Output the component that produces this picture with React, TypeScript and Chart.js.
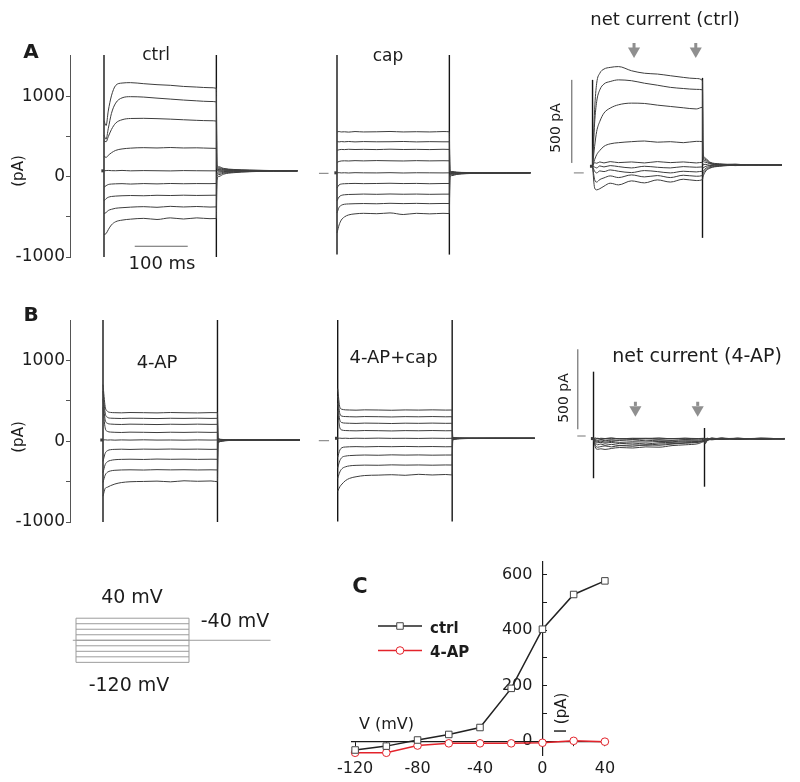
import React, { useEffect, useRef } from "react";
import { Chart, registerables } from "chart.js";

Chart.register(...registerables);

// ---------------- data ----------------
const STEP_MV = [40, 20, 0, -20, -40, -60, -80, -100, -120];
const HOLD_MV = -40;
const T_PULSE = [0, 4, 8, 14, 22, 34, 50, 75, 100, 125, 150, 175, 200, 212];
const T_TAIL = [213, 217, 226, 245, 275, 320, 365];
const T_PRE = [-5, 0];
const ARROW_T = [80, 199];
const SCALE_MS = 100;
const SCALE_PA = 500;

const CTRL_PULSE = [
  [700, 640, 820, 1010, 1140, 1170, 1175, 1162, 1150, 1142, 1128, 1120, 1112, 1105],
  [520, 470, 600, 790, 920, 985, 1000, 995, 982, 970, 958, 948, 940, 935],
  [450, 437, 500, 590, 670, 712, 728, 730, 726, 720, 712, 705, 700, 696],
  [260, 242, 268, 300, 330, 348, 358, 364, 360, 366, 360, 362, 357, 355],
  [75, 78, 80, 77, 76, 80, 75, 78, 76, 74, 78, 76, 75, 75],
  [-130, -110, -96, -90, -87, -85, -90, -84, -88, -83, -86, -84, -85, -83],
  [-300, -272, -255, -245, -240, -236, -233, -236, -230, -233, -229, -232, -230, -229],
  [-460, -445, -420, -405, -392, -385, -378, -372, -380, -368, -376, -370, -377, -375],
  [-720, -708, -660, -600, -560, -540, -528, -518, -532, -512, -526, -512, -522, -520],
];
const CTRL_TAIL = [
  [146, 125, 105, 92, 84, 78, 76],
  [128, 112, 98, 88, 82, 77, 75],
  [112, 100, 90, 84, 80, 77, 75],
  [96, 90, 84, 80, 78, 76, 75],
  [78, 76, 76, 75, 76, 75, 75],
  [58, 62, 66, 70, 72, 74, 75],
  [36, 46, 56, 64, 70, 73, 75],
  [10, 28, 46, 58, 66, 72, 74],
  [-41, 5, 34, 52, 64, 71, 74],
];
const CTRL_HOLD = 75;
const CTRL_SPIKE = [-1010, 1520];

const CAP_PULSE = [
  [560, 565, 560, 562, 558, 565, 560, 562, 566, 560, 563, 560, 565, 562],
  [440, 436, 440, 437, 441, 436, 440, 437, 438, 441, 436, 439, 437, 437],
  [330, 338, 342, 340, 344, 341, 343, 340, 345, 341, 343, 340, 344, 342],
  [180, 192, 198, 200, 198, 202, 199, 203, 200, 198, 202, 199, 201, 200],
  [50, 52, 49, 51, 48, 52, 50, 49, 52, 48, 51, 50, 49, 50],
  [-140, -100, -90, -86, -84, -82, -85, -83, -80, -84, -82, -86, -83, -83],
  [-300, -250, -232, -224, -220, -218, -215, -218, -214, -217, -215, -218, -216, -216],
  [-450, -380, -355, -342, -338, -335, -333, -336, -330, -334, -331, -335, -332, -333],
  [-700, -600, -540, -500, -475, -462, -455, -460, -450, -470, -455, -462, -455, -458],
];
const CAP_TAIL = [
  [80, 66, 58, 54, 52, 50, 50],
  [72, 62, 56, 53, 51, 50, 50],
  [64, 58, 54, 52, 51, 50, 50],
  [58, 55, 53, 51, 50, 50, 50],
  [50, 50, 50, 50, 50, 50, 50],
  [40, 42, 45, 47, 49, 50, 50],
  [28, 34, 40, 45, 48, 49, 50],
  [15, 25, 35, 42, 46, 49, 50],
  [0, 15, 30, 40, 46, 48, 50],
];
const CAP_HOLD = 50;
const CAP_ZERO = 44;
const CAP_SPIKE = [-970, 1530];

const NETC_PULSE = [
  [40, 380, 540, 600, 625, 635, 640, 615, 600, 595, 585, 575, 568, 556],
  [40, 300, 430, 500, 535, 550, 560, 555, 540, 528, 515, 508, 503, 500],
  [40, 160, 250, 310, 360, 390, 410, 420, 418, 408, 400, 392, 385, 395],
  [40, 80, 110, 135, 160, 175, 182, 188, 192, 185, 188, 182, 190, 188],
  [40, 62, 58, 66, 60, 68, 62, 66, 60, 68, 62, 66, 60, 64],
  [40, 35, 30, 42, 36, 44, 38, 30, 40, 34, 30, 38, 34, 36],
  [40, 10, 0, 12, 8, 18, 10, 2, 14, 8, 0, 10, 6, 10],
  [40, -40, -55, -40, -30, -18, -28, -12, -24, -16, -28, -14, -20, -16],
  [40, -90, -102, -95, -80, -62, -72, -48, -60, -42, -55, -38, -46, -40],
];
const NETC_TAIL = [
  [120, 90, 65, 55, 50, 48, 46],
  [105, 82, 62, 52, 46, 50, 48],
  [90, 74, 58, 50, 52, 46, 48],
  [75, 65, 55, 48, 46, 50, 47],
  [48, 52, 46, 50, 44, 50, 48],
  [30, 38, 44, 48, 52, 46, 48],
  [10, 25, 38, 44, 48, 50, 47],
  [-5, 15, 32, 42, 50, 46, 48],
  [-24, 5, 28, 40, 46, 50, 48],
];
const NETC_HOLD = 40;
const NETC_SPIKE_ON = [36, 560];
const NETC_SPIKE_OFF = [-391, 572];

const FAP_PULSE = [
  [700, 430, 372, 356, 353, 351, 355, 353, 350, 355, 352, 350, 354, 353],
  [620, 350, 297, 285, 283, 281, 285, 283, 280, 284, 282, 285, 282, 283],
  [520, 265, 222, 212, 209, 207, 211, 209, 206, 210, 208, 211, 208, 209],
  [420, 165, 122, 113, 110, 108, 112, 110, 107, 111, 109, 112, 109, 110],
  [15, 17, 14, 16, 13, 16, 14, 17, 14, 15, 13, 16, 14, 15],
  [-250, -150, -118, -105, -101, -99, -102, -98, -100, -97, -100, -98, -101, -100],
  [-390, -290, -255, -238, -229, -225, -223, -226, -221, -224, -222, -225, -223, -224],
  [-510, -420, -385, -368, -360, -356, -354, -357, -352, -355, -353, -356, -354, -356],
  [-680, -585, -570, -550, -530, -512, -502, -498, -494, -503, -490, -496, -492, -501],
];
const FAP_TAIL = [
  [-15, -5, 5, 12, 14, 15, 15],
  [-10, -2, 7, 12, 14, 15, 15],
  [-5, 2, 9, 13, 14, 15, 15],
  [0, 6, 11, 14, 15, 15, 15],
  [15, 14, 16, 14, 15, 16, 15],
  [20, 18, 16, 15, 15, 15, 15],
  [25, 20, 17, 16, 15, 15, 15],
  [28, 22, 18, 16, 15, 15, 15],
  [30, 24, 19, 16, 15, 15, 15],
];
const FAP_HOLD = 15;
const FAP_SPIKE = [-1005, 1500];

const FAPCAP_PULSE = [
  [650, 420, 395, 388, 386, 384, 388, 386, 383, 387, 385, 388, 385, 386],
  [560, 340, 310, 305, 303, 301, 305, 303, 300, 304, 302, 305, 302, 303],
  [470, 260, 230, 224, 222, 220, 224, 222, 219, 223, 221, 224, 221, 222],
  [380, 165, 138, 132, 130, 128, 132, 130, 127, 131, 129, 132, 129, 130],
  [36, 38, 35, 37, 34, 37, 35, 38, 35, 36, 34, 37, 35, 36],
  [-200, -110, -80, -72, -69, -67, -70, -66, -68, -65, -68, -66, -69, -68],
  [-330, -240, -200, -185, -178, -174, -171, -174, -169, -172, -170, -173, -171, -171],
  [-460, -380, -340, -318, -305, -299, -296, -298, -293, -296, -294, -297, -294, -295],
  [-620, -563, -530, -490, -460, -440, -425, -420, -415, -422, -410, -418, -412, -418],
];
const FAPCAP_TAIL = [
  [15, 24, 30, 34, 35, 36, 36],
  [20, 27, 32, 35, 36, 36, 36],
  [24, 29, 33, 35, 36, 36, 36],
  [28, 31, 34, 35, 36, 36, 36],
  [36, 35, 37, 35, 36, 37, 36],
  [40, 38, 37, 36, 36, 36, 36],
  [44, 40, 38, 37, 36, 36, 36],
  [46, 41, 38, 37, 36, 36, 36],
  [48, 42, 39, 37, 36, 36, 36],
];
const FAPCAP_HOLD = 36;
const FAPCAP_ZERO = 6;
const FAPCAP_SPIKE = [-995, 1500];

const NET4_PULSE = [
  [-15, -12, -18, -14, -16, -12, -18, -14, -16, -12, -18, -14, -16, -14],
  [-15, -20, -16, -22, -18, -20, -16, -22, -18, -20, -16, -22, -18, -16],
  [-15, -25, -28, -24, -30, -26, -28, -24, -30, -26, -28, -24, -26, -20],
  [-15, -30, -35, -32, -38, -34, -40, -36, -38, -34, -36, -30, -32, -25],
  [-15, -18, -14, -18, -16, -14, -18, -16, -14, -18, -16, -14, -18, -16],
  [-15, -35, -42, -40, -45, -40, -48, -44, -50, -42, -40, -36, -34, -28],
  [-15, -45, -55, -50, -58, -52, -60, -55, -58, -50, -48, -42, -38, -30],
  [-15, -60, -70, -66, -62, -68, -60, -64, -55, -58, -50, -45, -40, -32],
  [-15, -75, -83, -80, -84, -78, -72, -75, -68, -70, -60, -55, -48, -35],
];
const NET4_TAIL = [
  [-25, -14, -22, -12, -20, -14, -18],
  [-20, -26, -14, -22, -16, -20, -15],
  [-30, -18, -24, -14, -22, -16, -20],
  [-15, -22, -12, -20, -14, -22, -16],
  [-18, -14, -20, -16, -18, -14, -18],
  [-35, -20, -16, -22, -14, -20, -16],
  [-40, -24, -18, -14, -22, -16, -20],
  [-45, -28, -20, -16, -20, -14, -18],
  [-50, -30, -22, -18, -14, -20, -16],
];
const NET4_HOLD = -16;
const NET4_SPIKE_ON = [-264, 402];
const NET4_SPIKE_OFF = [-317, 50];

const TRACE_Y_TICKS = [-1000, -500, 0, 500, 1000];
const TRACE_Y_LABELS = [-1000, 0, 1000];

const IV_V = [-120, -100, -80, -60, -40, -20, 0, 20, 40];
const IV_CTRL = [-32, -18, 4, 24, 49, 190, 403, 528, 577];
const IV_4AP = [-42, -42, -16, -8, -8, -8, -6, 1, -2];
const IV_X_MINOR = [-120, -100, -80, -60, -40, -20, 0, 20, 40];
const IV_X_LABELS = [-120, -80, -40, 0, 40];
const IV_Y_MINOR = [0, 100, 200, 300, 400, 500, 600];
const IV_Y_LABELS = [0, 200, 400, 600];

// ---------------- style / layout ----------------
const W = 800;
const H = 782;
const FONT = "'DejaVu Sans', 'Liberation Sans', sans-serif";
const INK = "#1c1c1c";
const TRACE = "#3d3d3d";
const SPIKE = "#151515";
const GRAY = "#8f8f8f";
const LIGHT = "#9c9c9c";
const RED = "#e3232b";
const T_END = T_PULSE[T_PULSE.length - 1];
const IV_LABEL_GAP_MV = -6.4; // where the y tick labels of panel C sit (about 10px left of the axis)

type TextItem = {
  t: string; x: number; y: number; size: number; bold?: boolean;
  align?: CanvasTextAlign; base?: CanvasTextBaseline; rot?: boolean;
};

const freeText = {
  id: "freeText",
  afterDraw(chart: any, _a: any, opts: any) {
    const ctx = chart.ctx;
    (opts.items || []).forEach((it: TextItem) => {
      ctx.save();
      ctx.font = `${it.bold ? "bold " : ""}${it.size}px ${FONT}`;
      ctx.fillStyle = INK;
      ctx.textAlign = it.align || "center";
      ctx.textBaseline = it.base || "alphabetic";
      ctx.translate(it.x, it.y);
      if (it.rot) ctx.rotate(-Math.PI / 2);
      ctx.fillText(it.t, 0, 0);
      ctx.restore();
    });
  },
};

const ivLegend = {
  id: "ivLegend",
  afterDraw(chart: any, _a: any, o: any) {
    if (!o || !o.ys) return;
    const ctx = chart.ctx;
    chart.data.datasets.forEach((ds: any, i: number) => {
      const y = o.ys[i];
      ctx.save();
      ctx.strokeStyle = ds.borderColor;
      ctx.lineWidth = ds.borderWidth;
      ctx.beginPath();
      ctx.moveTo(o.x1, y);
      ctx.lineTo(o.x2, y);
      ctx.stroke();
      const mx = (o.x1 + o.x2) / 2;
      ctx.fillStyle = "#fff";
      ctx.strokeStyle = ds.pointBorderColor;
      ctx.lineWidth = 1;
      ctx.beginPath();
      if (ds.pointStyle === "rect") {
        const s = ds.pointRadius * Math.SQRT1_2;
        ctx.rect(mx - s, y - s, 2 * s, 2 * s);
      } else {
        ctx.arc(mx, y, ds.pointRadius, 0, Math.PI * 2);
      }
      ctx.fill();
      ctx.stroke();
      ctx.font = `bold 15px ${FONT}`;
      ctx.fillStyle = INK;
      ctx.textAlign = "left";
      ctx.textBaseline = "alphabetic";
      ctx.fillText(ds.label, o.tx, o.tb[i]);
      ctx.restore();
    });
  },
};

function pad(l: number, t: number, r: number, b: number, axisW = 0, axisH = 0) {
  return { left: l - axisW, top: t, right: W - r, bottom: H - b - axisH };
}

function seg(pts: number[][], color: string, width: number) {
  return {
    data: pts.map(([x, y]) => ({ x, y })),
    borderColor: color,
    borderWidth: width,
    pointRadius: 0,
    tension: 0,
    fill: false,
  };
}

function trace(pulse: number[], tail: number[], color = TRACE) {
  const data = T_PULSE.map((t, i) => ({ x: t, y: pulse[i] })).concat(
    T_TAIL.map((t, i) => ({ x: t, y: tail[i] }))
  );
  return {
    data,
    borderColor: color,
    borderWidth: 1,
    pointRadius: 0,
    cubicInterpolationMode: "monotone",
    fill: false,
  };
}

function baseOptions(padding: any, scales: any, plugins: any) {
  return {
    responsive: false,
    animation: false,
    events: [],
    layout: { padding },
    plugins: { legend: { display: false }, tooltip: { enabled: false }, ...plugins },
    scales,
  };
}

function yAxisVisible(min: number, max: number) {
  return {
    type: "linear",
    position: "left",
    min,
    max,
    afterFit: (s: any) => {
      s.width = 60;
    },
    afterBuildTicks: (s: any) => {
      s.ticks = TRACE_Y_TICKS.map((v) => ({ value: v }));
    },
    ticks: {
      autoSkip: false,
      padding: 1,
      color: INK,
      font: { family: FONT, size: 17 },
      callback: (v: number) => (TRACE_Y_LABELS.includes(v) ? String(v) : ""),
    },
    grid: { drawOnChartArea: false, tickLength: 4, color: "#555" },
    border: { color: "#555", width: 1 },
  };
}

type PanelSpec = {
  area: number[]; x0: number; ppm: number; yMin: number; yMax: number; yAxis?: boolean;
  pulse: number[][]; tail: number[][]; hold: number; spikeOn: number[]; spikeOff: number[];
  extras: any[]; texts: TextItem[];
};

function tracePanel(p: PanelSpec) {
  const [l, t, r, b] = p.area;
  const axisW = p.yAxis ? 60 : 0;
  const datasets: any[] = [];
  p.pulse.forEach((row, i) => datasets.push(trace(row, p.tail[i])));
  datasets.push(seg(T_PRE.map((tt) => [tt, p.hold]), TRACE, 3));
  datasets.push(seg([[0, p.spikeOn[0]], [0, p.spikeOn[1]]], SPIKE, 1.4));
  datasets.push(seg([[T_END, p.spikeOff[0]], [T_END, p.spikeOff[1]]], SPIKE, 1.4));
  p.extras.forEach((d) => datasets.push(d));
  const scales = {
    x: { type: "linear", display: false, min: (l - p.x0) / p.ppm, max: (r - p.x0) / p.ppm },
    y: p.yAxis ? yAxisVisible(p.yMin, p.yMax) : { type: "linear", display: false, min: p.yMin, max: p.yMax },
  };
  return {
    type: "line",
    data: { datasets },
    options: baseOptions(pad(l, t, r, b, axisW), scales, { freeText: { items: p.texts } }),
    plugins: [freeText],
  };
}

function arrows(stemLo: number, stemHi: number, head: number) {
  const out: any[] = ARROW_T.map((tt) => seg([[tt, stemLo], [tt, stemHi]], GRAY, 3));
  out.push({
    data: ARROW_T.map((tt) => ({ x: tt, y: head })),
    showLine: false,
    pointStyle: "triangle",
    pointRotation: 180,
    pointRadius: 7,
    pointBackgroundColor: GRAY,
    pointBorderColor: GRAY,
    pointBorderWidth: 0,
  });
  return out;
}

// ---------------- panels ----------------
const buildCtrl = () =>
  tracePanel({
    area: [70, 55, 300, 257], x0: 104, ppm: 0.53, yMin: -1000, yMax: 1520, yAxis: true,
    pulse: CTRL_PULSE, tail: CTRL_TAIL, hold: CTRL_HOLD, spikeOn: CTRL_SPIKE, spikeOff: CTRL_SPIKE,
    extras: [seg([[58, -866], [58 + SCALE_MS, -866]], "#666", 1)],
    texts: [
      { t: "A", x: 31, y: 58, size: 20, bold: true },
      { t: "ctrl", x: 156, y: 60, size: 17 },
      { t: "(pA)", x: 19, y: 171, size: 15, rot: true, base: "middle" },
      { t: "100 ms", x: 162, y: 269, size: 18 },
    ],
  });

const buildCap = () =>
  tracePanel({
    area: [300, 55, 540, 257], x0: 337, ppm: 0.53, yMin: -1000, yMax: 1520,
    pulse: CAP_PULSE, tail: CAP_TAIL, hold: CAP_HOLD, spikeOn: CAP_SPIKE, spikeOff: CAP_SPIKE,
    extras: [seg([[-34, CAP_ZERO], [-16, CAP_ZERO]], "#777", 1)],
    texts: [{ t: "cap", x: 388, y: 60.5, size: 17 }],
  });

const buildNetCtrl = () =>
  tracePanel({
    area: [540, 40, 800, 251], x0: 594, ppm: 0.533, yMin: -470, yMax: 800,
    pulse: NETC_PULSE, tail: NETC_TAIL, hold: NETC_HOLD, spikeOn: NETC_SPIKE_ON, spikeOff: NETC_SPIKE_OFF,
    extras: [
      seg([[-40, 60], [-40, 60 + SCALE_PA]], "#555", 1),
      seg([[-36, 0], [-17, 0]], "#777", 1),
      ...arrows(752, 782, 734),
    ],
    texts: [
      { t: "net current (ctrl)", x: 665, y: 25, size: 18 },
      { t: "500 pA", x: 556, y: 128, size: 14, rot: true, base: "middle" },
    ],
  });

const buildFap = () =>
  tracePanel({
    area: [70, 320, 300, 522], x0: 103, ppm: 0.54, yMin: -1000, yMax: 1500, yAxis: true,
    pulse: FAP_PULSE, tail: FAP_TAIL, hold: FAP_HOLD, spikeOn: FAP_SPIKE, spikeOff: FAP_SPIKE,
    extras: [],
    texts: [
      { t: "B", x: 31, y: 320.5, size: 20, bold: true },
      { t: "4-AP", x: 157, y: 368, size: 18 },
      { t: "(pA)", x: 19, y: 437, size: 15, rot: true, base: "middle" },
    ],
  });

const buildFapCap = () =>
  tracePanel({
    area: [300, 320, 540, 522], x0: 337.7, ppm: 0.54, yMin: -1000, yMax: 1500,
    pulse: FAPCAP_PULSE, tail: FAPCAP_TAIL, hold: FAPCAP_HOLD, spikeOn: FAPCAP_SPIKE, spikeOff: FAPCAP_SPIKE,
    extras: [seg([[-35, FAPCAP_ZERO], [-16, FAPCAP_ZERO]], "#777", 1)],
    texts: [{ t: "4-AP+cap", x: 393.5, y: 363, size: 18 }],
  });

const buildNet4 = () =>
  tracePanel({
    area: [540, 340, 800, 500], x0: 595, ppm: 0.538, yMin: -400, yMax: 600,
    pulse: NET4_PULSE, tail: NET4_TAIL, hold: NET4_HOLD, spikeOn: NET4_SPIKE_ON, spikeOff: NET4_SPIKE_OFF,
    extras: [
      seg([[-30, 42], [-30, 42 + SCALE_PA]], "#555", 1),
      seg([[-31, 0], [-15, 0]], "#777", 1),
      ...arrows(188, 214, 164),
    ],
    texts: [
      { t: "net current (4-AP)", x: 697, y: 362, size: 19 },
      { t: "500 pA", x: 564, y: 398, size: 14, rot: true, base: "middle" },
    ],
  });

const buildProtocol = () => {
  const datasets: any[] = STEP_MV.map((v) => seg([[0, v], [T_END, v]], LIGHT, 1));
  const lo = STEP_MV[STEP_MV.length - 1];
  const hi = STEP_MV[0];
  datasets.push(seg([[0, lo], [0, hi]], LIGHT, 1));
  datasets.push(seg([[T_END, lo], [T_END, hi]], LIGHT, 1));
  datasets.push(seg([[-6, HOLD_MV], [T_TAIL[T_TAIL.length - 1], HOLD_MV]], LIGHT, 1));
  const l = 40, r = 300, x0 = 76, ppm = 0.533;
  return {
    type: "line",
    data: { datasets },
    options: baseOptions(
      pad(l, 600, r, 680),
      {
        x: { type: "linear", display: false, min: (l - x0) / ppm, max: (r - x0) / ppm },
        y: { type: "linear", display: false, min: -184, max: 106 },
      },
      {
        freeText: {
          items: [
            { t: "40 mV", x: 132, y: 603, size: 19 },
            { t: "-40 mV", x: 235, y: 626.5, size: 19 },
            { t: "-120 mV", x: 129, y: 690.5, size: 19 },
          ],
        },
      }
    ),
    plugins: [freeText],
  };
};

const buildIV = () => {
  const datasets = [
    {
      label: "ctrl",
      data: IV_V.map((v, i) => ({ x: v, y: IV_CTRL[i] })),
      borderColor: "#222",
      borderWidth: 1.5,
      pointStyle: "rect",
      pointRadius: 4.6,
      pointBackgroundColor: "#fff",
      pointBorderColor: "#444",
      pointBorderWidth: 1,
      tension: 0,
      clip: false,
    },
    {
      label: "4-AP",
      data: IV_V.map((v, i) => ({ x: v, y: IV_4AP[i] })),
      borderColor: RED,
      borderWidth: 1.5,
      pointStyle: "circle",
      pointRadius: 3.8,
      pointBackgroundColor: "#fff",
      pointBorderColor: RED,
      pointBorderWidth: 1,
      tension: 0,
      clip: false,
    },
  ];
  const tickFont = { family: FONT, size: 16 };
  const scales = {
    x: {
      type: "linear", axis: "x", min: -122, max: 42, position: { y: 0 },
      afterBuildTicks: (s: any) => { s.ticks = IV_X_MINOR.map((v) => ({ value: v })); },
      ticks: { display: false },
      grid: { drawOnChartArea: false, tickLength: 4, color: INK },
      border: { color: INK, width: 1.2 },
    },
    x2: {
      type: "linear", axis: "x", min: -122, max: 42, position: "bottom",
      afterFit: (s: any) => { s.height = 26; },
      afterBuildTicks: (s: any) => { s.ticks = IV_X_LABELS.map((v) => ({ value: v })); },
      ticks: { autoSkip: false, maxRotation: 0, padding: 4, color: INK, font: tickFont, callback: (v: number) => String(v) },
      grid: { display: false, drawTicks: false },
      border: { display: false },
    },
    y: {
      type: "linear", axis: "y", min: -50, max: 645, position: { x: 0 },
      afterBuildTicks: (s: any) => { s.ticks = IV_Y_MINOR.map((v) => ({ value: v })); },
      ticks: { display: false },
      grid: { drawOnChartArea: false, tickLength: -5, color: INK },
      border: { color: INK, width: 1.2 },
    },
    y2: {
      type: "linear", axis: "y", min: -50, max: 645, position: { x: IV_LABEL_GAP_MV },
      afterBuildTicks: (s: any) => { s.ticks = IV_Y_LABELS.map((v) => ({ value: v })); },
      ticks: { autoSkip: false, padding: 0, color: INK, font: tickFont, callback: (v: number) => String(v) },
      grid: { display: false, drawTicks: false },
      border: { display: false },
    },
  };
  return {
    type: "line",
    data: { datasets },
    options: baseOptions(pad(352, 562, 608, 755, 0, 26), scales, {
      freeText: {
        items: [
          { t: "C", x: 360, y: 593, size: 21, bold: true },
          { t: "V (mV)", x: 359, y: 729, size: 16, align: "left" },
          { t: "I (pA)", x: 562, y: 713, size: 15, rot: true, base: "middle" },
        ],
      },
      ivLegend: { x1: 378, x2: 422, ys: [626, 650.5], tx: 430, tb: [633, 657] },
    }),
    plugins: [freeText, ivLegend],
  };
};

const BUILDERS = [buildProtocol, buildCtrl, buildCap, buildNetCtrl, buildFap, buildFapCap, buildNet4, buildIV];

function ChartLayer({ make }: { make: () => any }) {
  const ref = useRef<HTMLCanvasElement>(null);
  useEffect(() => {
    const chart = new Chart(ref.current as HTMLCanvasElement, make());
    return () => chart.destroy();
  }, [make]);
  return (
    <canvas
      ref={ref}
      width={W}
      height={H}
      style={{ position: "absolute", left: 0, top: 0, width: W, height: H }}
    />
  );
}

export default function App() {
  return (
    <div style={{ position: "absolute", left: 0, top: 0, width: W, height: H, background: "#fff", overflow: "hidden" }}>
      {BUILDERS.map((b, i) => (
        <ChartLayer key={i} make={b} />
      ))}
    </div>
  );
}
